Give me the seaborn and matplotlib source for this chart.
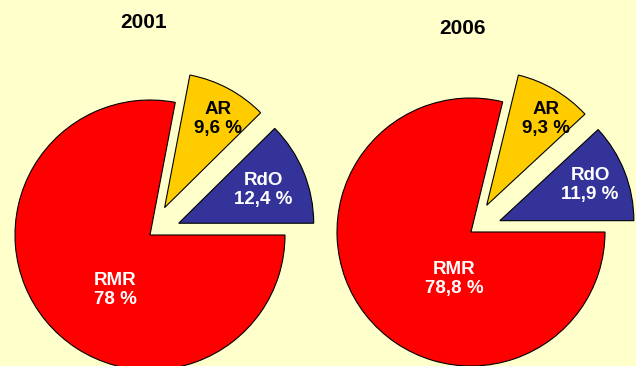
import matplotlib
matplotlib.use("Agg")
import matplotlib.pyplot as plt
import seaborn as sns

sns.set_theme(style="white")
plt.rcParams["font.family"] = ["Liberation Sans", "DejaVu Sans"]

# Shares per year, in drawing order (counter-clockwise from 3 o'clock)
categories = ["RdO", "AR", "RMR"]
years = ["2001", "2006"]
shares_2001 = [12.4, 9.6, 78.0]
shares_2006 = [11.9, 9.3, 78.8]
share_labels_2001 = ["12,4 %", "9,6 %", "78 %"]
share_labels_2006 = ["11,9 %", "9,3 %", "78,8 %"]

colors = ["#333399", "#FFCC00", "#FF0000"]
text_colors = ["white", "black", "white"]
bg = "#FFFFCC"

W, H = 636, 366
fig = plt.figure(figsize=(W / 100, H / 100), dpi=100, facecolor=bg)
ax = fig.add_axes([0, 0, 1, 1])
ax.set_facecolor(bg)

layout = [
    # pie center, radius, slice pull-out (data units), title position,
    # label offsets from the center
    dict(center=(150, 131), radius=135, explode=[31, 31, 0], title=(144, 343),
         offsets=[(113, 45), (68, 116), (-35, -55)]),
    dict(center=(471, 134), radius=134, explode=[31, 31, 0], title=(462, 337),
         offsets=[(119, 47), (75, 113), (-17, -47)]),
]

for year, shares, slabels, lay in zip(
        years, [shares_2001, shares_2006],
        [share_labels_2001, share_labels_2006], layout):
    ax.pie(shares, colors=colors, explode=lay["explode"], startangle=0,
           counterclock=True, center=lay["center"], radius=lay["radius"],
           wedgeprops=dict(edgecolor="black", linewidth=0.8),
           frame=True)
    cx, cy = lay["center"]
    for cat, sl, tc, (dx, dy) in zip(categories, slabels, text_colors,
                                     lay["offsets"]):
        ax.text(cx + dx, cy + dy, f"{cat}\n{sl}", color=tc,
                fontsize=13.5, fontweight="bold", ha="center", va="center",
                linespacing=1.1)
    tx, ty = lay["title"]
    ax.text(tx, ty, year, fontsize=15, fontweight="bold", color="black",
            ha="center", va="center")

ax.set_xlim(0, W)
ax.set_ylim(0, H)
ax.set_aspect("equal")
ax.axis("off")
fig.savefig("out.png", dpi=100, facecolor=bg)
